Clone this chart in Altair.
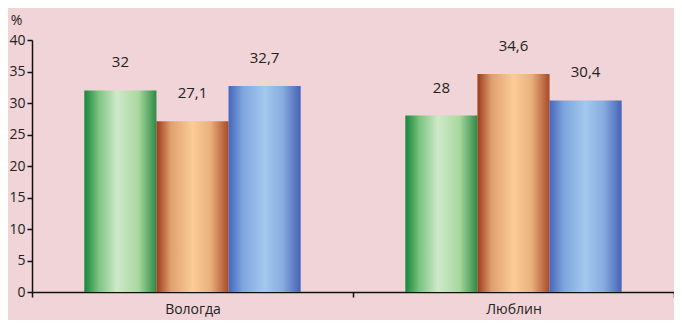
import altair as alt
import pandas as pd

cities = ["Вологда", "Люблин"]
series = ["green", "orange", "blue"]
values = {
    "green": [32, 28],
    "orange": [27.1, 34.6],
    "blue": [32.7, 30.4],
}
y_ticks = [0, 5, 10, 15, 20, 25, 30, 35, 40]

rows = []
for s in series:
    for c, v in zip(cities, values[s]):
        rows.append({"city": c, "series": s, "value": v,
                     "label": (f"{v:g}").replace(".", ",")})
df = pd.DataFrame(rows)

grads = {
    "green": [("#17843a", 0), ("#7cc482", 0.2), ("#cfe9c9", 0.45), ("#a9d8a0", 0.75), ("#2c8a44", 1)],
    "orange": [("#9c3b1c", 0), ("#e0a070", 0.2), ("#fbcc96", 0.5), ("#eab07c", 0.75), ("#a84a28", 1)],
    "blue": [("#4566bd", 0), ("#7fa6de", 0.2), ("#a3c9ee", 0.5), ("#88acdf", 0.75), ("#4563b5", 1)],
}

FONT = "Open Sans"
x_enc = alt.X("city:N", sort=cities,
              scale=alt.Scale(paddingInner=0, paddingOuter=0),
              axis=alt.Axis(title=None, labelAngle=0, labelFontSize=14, labelFont=FONT,
                            labelColor="#222", domainColor="#111", tickColor="#111",
                            tickBand="extent", tickSize=5, labelPadding=5,
                            labelBaseline="top",
                            domainWidth=1.5, tickWidth=1.5))
xo = alt.XOffset("series:N", sort=series,
                 scale=alt.Scale(paddingInner=0, paddingOuter=0.726))
y_enc = alt.Y("value:Q", scale=alt.Scale(domain=[0, 40], nice=False),
              axis=alt.Axis(values=y_ticks, grid=False, title="%", titleAngle=0,
                            titleX=-16, titleY=-27, titleFontSize=14, titleBaseline="top",
                            titleFont=FONT, titleFontWeight="normal", titleColor="#222",
                            labelFontSize=14, labelFont=FONT, labelColor="#222",
                            domainColor="#111", tickColor="#111", tickSize=5,
                            labelPadding=2, domainWidth=1.5, tickWidth=1.5))

base = alt.Chart(df)
layers = []
for s in series:
    g = alt.Gradient(gradient="linear", x1=0, x2=1, y1=0, y2=0,
                     stops=[alt.GradientStop(color=c, offset=o) for c, o in grads[s]])
    layers.append(
        base.transform_filter(alt.datum.series == s)
        .mark_bar(fill=g, stroke=None)
        .encode(x=x_enc, xOffset=xo, y=y_enc)
    )

text = base.mark_text(fontSize=15, font=FONT, color="#222", baseline="bottom", dy=-20).encode(
    x=x_enc, xOffset=xo, y=y_enc, text="label:N"
)

chart = alt.layer(*layers, text).properties(
    width=642, height=252,
    background="#f0d4d7",
    padding={"left": 24, "top": 32, "right": 0, "bottom": 28},
    autosize=alt.AutoSizeParams(type="none"),
).configure_view(stroke=None)

chart.save("out.html", embed_options={"renderer": "svg", "actions": False})
